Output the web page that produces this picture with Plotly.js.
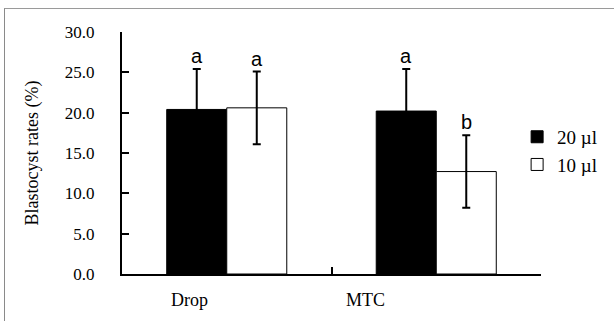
<!DOCTYPE html>
<html>
<head>
<meta charset="utf-8">
<script src="https://cdn.plot.ly/plotly-3.0.1.min.js"></script>
<style>
  html, body { margin: 0; padding: 0; background: #fff; }
  #wrap { position: relative; width: 614px; height: 321px; }
  #chart { width: 614px; height: 321px; }
  #frame { position: absolute; left: 4px; top: 8px; right: 0; bottom: 0;
           border-top: 1px solid #9a9a9a; border-left: 1px solid #8a8a8a; pointer-events: none; }
</style>
</head>
<body>
<div id="wrap">
  <div id="chart"></div>
  <div id="frame"></div>
</div>
<script>
// ---- data ----
const categories = ["Drop", "MTC"];
const seriesNames = ["20 \u00b5l", "10 \u00b5l"];
const values20 = [20.4, 20.2];
const errors20 = [5.0, 5.2];
const letters20 = ["a", "a"];
const values10 = [20.6, 12.7];
const errors10 = [4.5, 4.5];
const letters10 = ["a", "b"];
const yTickVals = [0, 5, 10, 15, 20, 25, 30];
const yTickText = ["0.0", "5.0", "10.0", "15.0", "20.0", "25.0", "30.0"];
const yTitle = "Blastocyst rates (%)";

// ---- styling ----
const serif = "Liberation Serif, Times New Roman, serif";
const sans = "Liberation Sans, Arial, sans-serif";
const halfBar = 30;            // px offset of each bar's centre from the category centre
const labelShift = [-37, -71]; // px shift of category labels as drawn in the reference

const traces = [
  {
    type: "bar", name: seriesNames[0], x: categories, y: values20,
    legendgroup: "g1",
    marker: { color: "#000", line: { color: "#000", width: 1 } },
    error_y: { type: "data", array: errors20, visible: true, color: "#000", thickness: 2, width: 4 }
  },
  {
    type: "bar", name: seriesNames[1], x: categories, y: values10,
    legendgroup: "g2",
    marker: { color: "#fff", line: { color: "#000", width: 1 } },
    error_y: { type: "data", array: errors10, visible: true, color: "#000", thickness: 2, width: 4 }
  }
];

const annotations = [];
categories.forEach((c, i) => {
  annotations.push({ x: c, y: values20[i] + errors20[i], xref: "x", yref: "y", xshift: -halfBar,
    yanchor: "bottom", yshift: 0, text: letters20[i], showarrow: false,
    font: { family: sans, size: 20, color: "#000" } });
  annotations.push({ x: c, y: values10[i] + errors10[i], xref: "x", yref: "y", xshift: halfBar,
    yanchor: "bottom", yshift: 0, text: letters10[i], showarrow: false,
    font: { family: sans, size: 20, color: "#000" } });
  annotations.push({ x: c, y: 0, xref: "x", yref: "paper", xshift: labelShift[i],
    yanchor: "top", yshift: -14, text: c, showarrow: false,
    font: { family: serif, size: 18, color: "#000" } });
});

const layout = {
  width: 614, height: 321,
  margin: { l: 122, r: 73, t: 32, b: 47, autoexpand: false },
  paper_bgcolor: "#fff", plot_bgcolor: "rgba(0,0,0,0)",
  barmode: "group", bargap: 0.427, bargroupgap: 0,
  showlegend: true,
  legend: {
    x: 0.943, xanchor: "left", y: 0.645, yanchor: "top",
    font: { family: serif, size: 19, color: "#000" },
    tracegroupgap: 0, traceorder: "grouped",
    bgcolor: "rgba(0,0,0,0)"
  },
  xaxis: {
    type: "category", range: [-0.5, 1.5],
    showline: true, linecolor: "#000", linewidth: 2,
    ticks: "inside", tickson: "boundaries", ticklen: 7, tickwidth: 2, tickcolor: "#000",
    showticklabels: false, showgrid: false, zeroline: false, fixedrange: true, automargin: false
  },
  yaxis: {
    range: [0, 30], tickvals: yTickVals, ticktext: yTickText,
    showline: true, linecolor: "#000", linewidth: 2,
    ticks: "inside", ticklen: 7, tickwidth: 2, tickcolor: "#000",
    ticklabelstandoff: 22,
    tickfont: { family: serif, size: 17, color: "#000" },
    showgrid: false, zeroline: false, fixedrange: true, automargin: false,
    title: { text: yTitle, font: { family: serif, size: 18, color: "#000" }, standoff: 22 }
  },
  annotations: annotations
};

Plotly.newPlot("chart", traces, layout, { displayModeBar: false, staticPlot: true });
</script>
</body>
</html>
